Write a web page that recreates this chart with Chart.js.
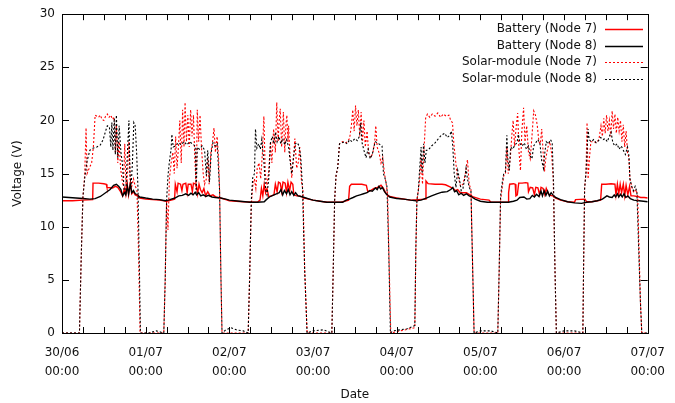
<!DOCTYPE html>
<html>
<head>
    <title>Voltage</title>
    <script src="https://cdn.jsdelivr.net/npm/chart.js"></script>
    <style>
        body { margin: 0; background: #fff; }
        .chart-container { position: relative; width: 675px; height: 403px; }
    </style>
</head>
<body>
<div class="chart-container">
    <canvas id="voltageChart" width="675" height="403"></canvas>
</div>
<script>
    // x values are hours from 30/06 00:00
    const dayLabels = ['30/06', '01/07', '02/07', '03/07', '04/07', '05/07', '06/07', '07/07'];
    const timeLabel = '00:00';
    const seriesNames = ['Battery (Node 7)', 'Battery (Node 8)', 'Solar-module (Node 7)', 'Solar-module (Node 8)'];

    const battery7 = [
        [0,12.45],[3,12.45],[6,12.5],[8.8,12.55],[8.9,14.1],[10.5,14.1],[12.0,14.05],[12.7,14.0],[12.9,13.7],[14.5,13.65],[15.3,13.8],[16.0,13.7],[16.8,13.3],[17.4,12.9],[17.9,13.6],[18.3,13.0],[18.7,14.0],[19.1,13.0],[19.6,14.1],[20.0,13.1],[20.5,13.3],[21.0,13.0],[21.6,12.9],[22.3,12.7],
        [24,12.6],[28,12.5],[30,12.4],[32.3,12.6],[32.5,14.0],[33.0,13.3],[33.3,14.1],[34.0,14.0],[34.4,13.4],[34.7,14.0],[35.5,14.1],[35.9,13.2],[36.2,14.0],[37.0,14.0],[37.4,13.3],[37.7,14.1],[38.5,14.0],[38.9,13.1],[39.3,14.0],[39.7,13.5],[40.2,13.2],[40.7,13.6],[41.2,12.9],[41.8,13.3],[42.5,12.9],[43.3,13.0],[44.2,12.8],[45.5,12.7],[47,12.55],
        [48,12.45],[52,12.35],[56,12.3],[56.8,12.5],[57.2,13.6],[57.6,12.9],[58.0,14.0],[58.4,13.2],[58.8,13.6],[59.3,12.8],[60.0,12.9],[60.8,13.0],[61.2,14.0],[61.7,13.3],[62.1,14.2],[62.6,14.1],[63.0,13.3],[63.4,14.2],[64.0,14.1],[64.4,13.2],[64.8,14.2],[65.3,13.4],[65.7,14.2],[66.2,14.0],[66.5,13.0],[67.3,12.9],[68.2,12.9],[69.5,12.7],
        [72,12.5],[76,12.3],[80,12.3],[82.2,12.5],[82.5,13.8],[83.0,14.0],[84.5,14.0],[86.0,14.0],[87.3,13.9],[87.7,13.3],[88.5,13.4],[89.5,13.6],[90.5,13.7],[91.5,13.9],[92.2,13.6],[93.0,13.1],[94.0,12.85],
        [96,12.7],[100,12.5],[104.2,12.6],[104.4,14.3],[105,14.05],[107,14.0],[109,14.0],[110,13.95],[111.6,13.7],[112.3,13.6],[112.8,13.4],[113.5,13.5],[114.2,13.2],[115,13.2],[116,13.2],[117,13.0],[118,12.8],[120,12.6],[122.5,12.5],
        [123,12.3],[128,12.3],[128.1,13.2],[128.4,14.0],[129.5,14.05],[130.0,14.0],[130.2,12.9],[130.6,13.0],[131.0,14.1],[132.0,14.1],[133.0,14.15],[133.6,14.1],[133.8,13.3],[134.3,13.7],[135.0,13.65],[135.5,13.0],[135.9,13.7],[136.5,13.65],[137.0,13.0],[137.4,13.7],[138.0,13.6],[138.5,13.0],[138.9,13.6],[139.5,13.1],[140.0,12.95],[140.8,12.9],[141.6,12.7],[143,12.5],[145,12.35],
        [147,12.3],[147.3,12.55],[150,12.6],[150.5,12.35],[152,12.35],[154.5,12.5],[154.8,14.0],[156,14.0],[157.5,14.05],[158.6,14.0],[158.9,13.0],[159.3,14.0],[159.7,13.1],[160.1,14.0],[160.5,13.2],[161.0,14.0],[161.4,12.9],[161.8,13.9],[162.3,13.0],[162.8,13.8],[163.2,12.9],[164,12.9],[165,12.85],[166,12.75],[167,12.75],[168,12.7]
    ];

    const battery8 = [
        [0,12.8],[2,12.75],[4,12.7],[6,12.65],[8,12.6],[9.5,12.65],[11,12.85],[12.5,13.2],[13.8,13.5],[14.8,13.9],[15.6,14.0],[16.3,13.8],[16.9,13.5],[17.4,12.9],[17.9,13.2],[18.3,13.0],[18.7,13.9],[19.1,13.1],[19.6,14.0],[20.0,13.2],[20.5,13.4],[21.0,13.1],[21.6,13.0],[22.3,12.8],
        [24,12.7],[26,12.6],[28,12.55],[29.6,12.45],[30.5,12.5],[32.4,12.7],[33.5,12.9],[34.5,12.95],[35.5,13.1],[36.3,12.95],[37.0,13.15],[37.6,13.0],[38.2,13.25],[38.6,13.0],[39.2,13.2],[39.8,12.9],[40.5,13.0],[41.3,12.85],[42.0,12.95],[43.0,12.8],[44.0,12.75],[45.5,12.7],[47,12.6],
        [48,12.5],[51,12.4],[54,12.3],[56,12.3],[58,12.35],[58.6,12.55],[59.5,12.8],[60.5,12.95],[61.5,13.1],[62.3,13.2],[62.8,13.5],[63.3,13.0],[63.8,13.4],[64.4,13.1],[64.9,13.5],[65.4,13.0],[65.9,13.3],[66.5,12.95],[67.0,13.2],[67.7,12.9],[68.5,12.85],[69.5,12.75],[71,12.6],
        [72,12.5],[74,12.4],[76,12.3],[80.5,12.3],[81.5,12.5],[82.4,12.6],[83.5,12.75],[84.5,12.9],[85.5,13.0],[86.5,13.1],[87.5,13.2],[88.3,13.4],[89.0,13.35],[89.9,13.65],[90.4,13.5],[90.9,13.8],[91.4,13.55],[91.9,13.7],[92.5,13.3],[93.2,13.0],[94.0,12.8],
        [96,12.65],[98,12.6],[100,12.5],[101.5,12.45],[103,12.5],[104.5,12.7],[106,12.9],[107.5,13.1],[109,13.25],[110.5,13.3],[111.5,13.5],[112.1,13.7],[112.6,13.3],[113.2,13.4],[113.8,13.0],[114.5,13.15],[115.2,12.95],[116.0,13.1],[116.8,12.9],[117.5,12.8],[118.5,12.6],
        [120,12.4],[122,12.3],[124,12.3],[128,12.3],[129.5,12.4],[130.5,12.5],[131.3,12.75],[132.5,12.8],[133.3,12.6],[134.2,12.65],[134.9,12.95],[135.5,12.8],[136.1,13.05],[136.8,12.85],[137.4,13.35],[137.8,12.9],[138.3,13.4],[138.8,12.95],[139.3,13.35],[139.8,12.9],[140.3,13.2],[140.9,12.95],[141.6,12.75],[143,12.55],[145,12.35],[147,12.25],[149,12.2],
        [150.5,12.3],[152,12.35],[153.5,12.45],[155,12.6],[156.3,12.9],[157.0,12.8],[157.8,12.75],[158.4,13.0],[158.8,12.8],[159.3,13.1],[159.7,12.8],[160.2,13.05],[160.7,12.8],[161.2,13.1],[161.7,12.75],[162.3,12.9],[163,12.65],[164,12.5],[165.5,12.45],[168,12.35]
    ];

    const solar7 = [
        [0,0],[5.0,0],[5.5,7],[6.0,12.8],[6.5,14.8],[6.9,19.3],[7.2,15.0],[7.8,15.5],[8.5,16.0],[9.0,17.5],[9.5,20.5],[10.5,20.3],[11.0,20.5],[11.5,20.1],[12.0,20.0],[12.5,20.4],[13.0,20.6],[13.5,20.3],[14.0,20.5],[14.5,20.1],[15.0,20.3],[15.3,17.0],[15.6,19.5],[16.0,16.0],[16.4,18.0],[16.8,15.5],[17.2,14.5],[17.6,13.8],[18.0,17.8],[18.4,13.5],[18.8,15.0],[19.2,18.0],[19.6,14.0],[20.0,13.8],[20.5,14.5],[21.0,13.8],[21.5,13.5],[22.0,7],[22.4,0],
        [29.2,0],[29.6,5],[30.0,12.5],[30.4,9.7],[30.8,14.5],[31.3,16.0],[31.8,17.0],[32.2,15.0],[32.6,18.5],[33.0,15.5],[33.4,17.5],[33.8,20.0],[34.2,16.0],[34.6,21.0],[35.0,17.5],[35.3,21.7],[35.7,18.0],[36.1,20.5],[36.5,17.5],[36.9,21.0],[37.3,18.5],[37.7,20.5],[38.1,16.5],[38.5,13.5],[38.8,21.0],[39.2,18.0],[39.6,20.5],[40.0,17.5],[40.5,15.0],[40.9,14.0],[41.4,14.5],[41.8,16.5],[42.2,14.0],[42.7,17.0],[43.2,18.0],[43.6,19.3],[44.0,17.0],[44.5,18.5],[44.9,16.5],[45.2,13.5],[45.6,5],[45.9,0],
        [53.4,0],[53.8,5],[54.3,12.0],[54.7,13.8],[55.2,14.5],[55.6,13.6],[56.0,15.5],[56.5,16.0],[57.0,14.5],[57.5,17.0],[57.9,20.4],[58.3,15.0],[58.8,13.9],[59.3,15.2],[59.8,18.0],[60.2,16.0],[60.7,19.2],[61.2,17.0],[61.6,21.7],[62.0,18.0],[62.3,20.0],[62.6,21.1],[63.0,17.5],[63.5,20.8],[63.9,17.0],[64.2,19.5],[64.5,20.5],[64.8,18.0],[65.0,19.5],[65.4,16.7],[65.9,14.6],[66.4,16.5],[66.8,18.3],[67.3,15.5],[67.8,16.1],[68.2,17.5],[68.7,14.2],[69.1,13.5],[69.6,6],[70.3,0],
        [77.4,0],[77.8,6],[78.2,12.5],[78.6,14.8],[79.1,15.6],[79.6,17.8],[80.5,18.0],[81.5,17.9],[82.5,18.3],[83.0,19.5],[83.4,21.0],[83.8,19.0],[84.2,21.4],[84.6,19.5],[85.0,21.0],[85.4,18.5],[85.8,20.8],[86.2,18.0],[86.6,20.0],[87.0,17.5],[87.5,19.0],[88.0,16.8],[88.6,16.5],[89.2,17.0],[89.7,18.0],[90.0,19.5],[90.4,17.5],[90.9,17.0],[91.5,16.0],[92.0,16.5],[92.5,15.0],[93.0,14.0],[93.4,13.0],[93.8,7],[94.3,0],
        [101.2,0.5],[101.5,8],[101.8,12.5],[102.2,13.4],[102.6,14.5],[103.0,16.5],[103.4,14.0],[103.8,17.0],[104.3,20.2],[104.8,20.6],[105.5,20.3],[106.2,20.6],[107.0,20.4],[107.8,20.7],[108.6,20.3],[109.4,20.6],[110.2,20.4],[111.0,20.5],[111.5,20.0],[112.0,19.8],[112.4,17.8],[112.8,16.5],[113.3,15.0],[113.8,14.5],[114.3,13.8],[115.0,14.0],[115.6,14.8],[116.3,16.3],[116.8,14.0],[117.3,13.5],[117.8,6],[118.2,0],
        [125.0,0],[125.4,6],[125.8,12.5],[126.3,13.8],[126.7,14.8],[127.2,15.0],[127.6,17.5],[128.0,15.0],[128.6,16.5],[129.0,18.5],[129.4,20.0],[129.8,17.6],[130.3,19.5],[130.7,20.7],[131.1,17.0],[131.5,15.3],[131.9,19.0],[132.4,21.2],[132.8,18.0],[133.3,19.5],[133.8,17.0],[134.3,16.4],[134.8,18.5],[135.3,20.9],[135.8,20.5],[136.3,19.6],[136.8,18.0],[137.2,17.8],[137.6,19.2],[138.0,17.0],[138.4,15.2],[138.8,16.5],[139.4,17.5],[139.9,18.0],[140.4,17.0],[140.9,14.5],[141.4,6],[141.8,0],
        [149.4,0],[149.6,6],[149.9,13.6],[150.3,15.1],[150.6,19.8],[150.9,14.5],[151.3,16.5],[151.7,18.0],[152.5,18.0],[153.3,17.9],[154.0,18.2],[154.6,19.5],[155.0,18.5],[155.4,20.2],[155.8,18.8],[156.2,20.5],[156.6,19.0],[157.0,20.0],[157.4,18.5],[157.8,20.9],[158.2,19.2],[158.6,20.6],[159.0,18.8],[159.4,20.3],[159.8,19.0],[160.2,20.0],[160.6,18.0],[161.0,19.6],[161.4,17.5],[161.8,19.0],[162.2,17.0],[162.6,16.5],[162.9,14.5],[163.4,13.8],[164.0,13.2],[164.6,13.5],[165.1,13.0],[165.5,8],[165.9,3],[166.3,0],[168,0]
    ];

    const solar8 = [
        [0,0],[5.0,0],[5.5,7],[6.0,12.8],[6.6,14.8],[7.2,16.2],[8.0,17.2],[9.0,17.4],[10.0,17.5],[11.0,17.7],[11.8,18.2],[12.5,19.0],[13.0,19.5],[13.6,19.4],[14.0,17.5],[14.3,19.8],[14.6,17.2],[15.0,20.2],[15.3,16.8],[15.6,20.5],[16.0,16.5],[16.4,19.5],[16.9,17.0],[17.3,16.0],[17.8,13.5],[18.3,13.2],[18.7,16.5],[19.2,20.0],[19.5,15.0],[19.8,13.7],[20.2,16.0],[20.6,19.8],[21.0,19.5],[21.4,17.0],[21.8,13.5],[22.2,6],[22.5,0],
        [25,0],[27,0.2],[29.2,0],[29.6,5],[30.0,12.5],[30.4,14.8],[30.8,16.1],[31.3,17.3],[31.5,18.7],[31.9,17.5],[32.6,17.6],[33.4,17.9],[34.2,17.7],[35.0,18.0],[35.8,17.7],[36.6,18.0],[37.4,17.8],[38.2,17.6],[38.5,13.2],[38.8,17.5],[39.4,17.3],[40.2,17.6],[40.9,17.2],[41.4,14.8],[41.8,17.2],[42.3,14.2],[42.8,17.0],[43.3,17.9],[43.9,17.6],[44.5,17.8],[44.8,16.0],[45.2,13.4],[45.6,5],[45.9,0],
        [47,0.3],[48.5,0.5],[50,0.3],[52,0.2],[53.4,0],[53.8,5],[54.3,12.5],[54.7,14.6],[55.2,15.0],[55.5,19.2],[55.9,17.4],[56.4,17.8],[56.9,17.3],[57.3,18.2],[57.9,16.2],[58.4,13.5],[58.8,13.0],[59.3,14.5],[59.8,17.9],[60.3,18.5],[60.8,17.8],[61.2,18.9],[61.7,18.0],[62.2,18.5],[62.8,17.8],[63.3,18.3],[63.9,17.7],[64.4,18.2],[65.0,17.5],[65.5,16.0],[65.9,15.0],[66.4,16.5],[66.9,17.8],[67.5,17.9],[68.0,17.6],[68.5,16.5],[69.0,13.5],[69.6,6],[70.3,0],
        [72,0.2],[75,0.3],[77.4,0],[77.8,6],[78.2,12.5],[78.6,14.8],[79.1,15.6],[79.6,17.8],[80.3,17.9],[81.0,18.0],[81.8,17.8],[82.5,18.2],[83.2,18.0],[84.0,18.3],[84.7,18.1],[85.3,18.5],[85.7,19.8],[86.0,18.0],[86.6,17.2],[87.2,16.5],[87.8,17.3],[88.4,16.4],[89.0,16.8],[89.5,17.6],[89.9,18.0],[90.9,17.8],[91.8,17.6],[92.2,15.0],[92.7,14.5],[93.2,13.8],[93.7,8],[94.2,0],
        [95,0.2],[97,0.3],[99,0.4],[100.5,0.6],[101.2,0.7],[101.5,8],[101.8,12.5],[102.2,13.4],[102.6,15.5],[103.0,17.5],[103.3,15.0],[103.7,17.8],[104.1,16.0],[104.5,17.2],[105.0,17.2],[106.0,17.6],[107.0,17.9],[108.0,18.3],[108.8,18.6],[109.8,18.8],[110.5,18.4],[111.2,18.6],[111.7,19.0],[112.1,17.5],[112.5,15.0],[113.0,13.7],[113.5,15.3],[114.0,14.5],[114.5,13.4],[115.0,13.6],[115.5,14.5],[115.9,15.5],[116.3,14.5],[116.8,13.7],[117.3,13.4],[117.8,6],[118.2,0],
        [120,0.2],[123,0.2],[125.0,0],[125.4,6],[125.8,12.9],[126.3,14.2],[126.7,15.0],[127.2,15.2],[127.6,18.6],[127.9,16.3],[128.3,15.3],[128.7,17.5],[129.3,17.3],[129.9,17.7],[130.5,17.9],[130.9,18.7],[131.4,17.8],[132.0,17.6],[132.6,17.9],[133.2,17.3],[133.8,17.6],[134.4,16.6],[134.8,16.4],[135.3,17.6],[135.9,17.9],[136.5,18.2],[137.1,17.8],[137.6,16.2],[138.1,15.5],[138.5,17.0],[138.9,18.0],[139.5,17.8],[140.1,18.2],[140.6,17.9],[141.0,14.0],[141.4,6],[141.8,0],
        [144,0.2],[147,0.2],[149.4,0],[149.6,6],[149.9,13.6],[150.3,15.1],[150.6,17.0],[150.9,19.2],[151.2,18.2],[151.8,18.0],[152.5,18.2],[153.2,17.9],[153.9,18.1],[154.5,18.4],[155.2,18.2],[155.8,18.3],[156.4,18.0],[157.0,18.5],[157.5,18.9],[158.0,17.9],[158.6,17.6],[159.2,17.8],[159.8,17.3],[160.4,17.6],[161.0,17.2],[161.6,16.8],[162.2,17.5],[162.6,16.7],[162.9,14.5],[163.4,13.8],[163.9,13.4],[164.4,13.8],[164.9,13.3],[165.4,8],[165.9,3],[166.3,0],[168,0]
    ];

    const toPoints = arr => arr.map(p => ({ x: p[0], y: p[1] }));

    // gnuplot style: inward ticks on all four sides, frame, key at top right
    const gnuplotFrame = {
        id: 'gnuplotFrame',
        afterDraw(chart) {
            const { ctx, chartArea: a, scales: { x, y } } = chart;
            ctx.save();
            ctx.strokeStyle = '#000';
            ctx.lineWidth = 1;
            ctx.setLineDash([]);
            ctx.beginPath();
            x.ticks.forEach(t => {
                const px = Math.round(x.getPixelForValue(t.value)) + 0.5;
                ctx.moveTo(px, a.bottom); ctx.lineTo(px, a.bottom - 6);
                ctx.moveTo(px, a.top); ctx.lineTo(px, a.top + 6);
            });
            y.ticks.forEach(t => {
                const py = Math.round(y.getPixelForValue(t.value)) + 0.5;
                ctx.moveTo(a.left, py); ctx.lineTo(a.left + 7, py);
                ctx.moveTo(a.right, py); ctx.lineTo(a.right - 7, py);
            });
            ctx.stroke();
            ctx.strokeRect(Math.round(a.left) + 0.5, Math.round(a.top) + 0.5,
                Math.round(a.right - a.left), Math.round(a.bottom - a.top));

            // key
            ctx.font = '12px "DejaVu Sans"';
            ctx.textAlign = 'right';
            ctx.textBaseline = 'middle';
            chart.data.datasets.forEach((ds, i) => {
                const ry = 29 + i * 16.5;
                ctx.fillStyle = '#111';
                ctx.fillText(ds.label, 597, ry);
                ctx.strokeStyle = ds.borderColor;
                ctx.lineWidth = ds.borderWidth;
                ctx.setLineDash(ds.borderDash || []);
                ctx.beginPath();
                ctx.moveTo(605, Math.round(ry) + 0.5);
                ctx.lineTo(643, Math.round(ry) + 0.5);
                ctx.stroke();
            });
            ctx.restore();
        }
    };

    Chart.defaults.font.family = '"DejaVu Sans", sans-serif';
    Chart.defaults.font.size = 12;
    Chart.defaults.color = '#111';

    new Chart(document.getElementById('voltageChart'), {
        type: 'line',
        data: {
            datasets: [
                { label: seriesNames[0], data: toPoints(battery7), borderColor: 'rgb(255, 0, 0)', borderWidth: 1.4, order: 4 },
                { label: seriesNames[1], data: toPoints(battery8), borderColor: 'rgb(0, 0, 0)', borderWidth: 1.4, order: 3 },
                { label: seriesNames[2], data: toPoints(solar7), borderColor: 'rgb(255, 0, 0)', borderWidth: 1.1, borderDash: [2, 2], order: 2 },
                { label: seriesNames[3], data: toPoints(solar8), borderColor: 'rgb(0, 0, 0)', borderWidth: 1.1, borderDash: [2, 2], order: 1 }
            ]
        },
        options: {
            responsive: false,
            animation: false,
            elements: { point: { radius: 0 }, line: { tension: 0 } },
            layout: { padding: { top: 13, right: 19, left: 0, bottom: 0 } },
            plugins: { legend: { display: false }, tooltip: { enabled: false } },
            scales: {
                x: {
                    type: 'linear',
                    min: 0,
                    max: 168,
                    grid: { display: false, drawTicks: false },
                    border: { display: false },
                    afterFit: scale => { scale.height = 70; },
                    ticks: {
                        stepSize: 6,
                        autoSkip: false,
                        maxRotation: 0,
                        padding: 10,
                        font: { size: 12, lineHeight: 1.6 },
                        callback: value => value % 24 === 0 ? [dayLabels[value / 24], timeLabel] : ''
                    },
                    title: { display: true, text: 'Date', padding: { top: 0, bottom: 1 }, font: { size: 12 } }
                },
                y: {
                    min: 0,
                    max: 30,
                    grid: { display: false, drawTicks: false },
                    border: { display: false },
                    afterFit: scale => { scale.width = 62; },
                    ticks: { stepSize: 5, padding: 7 },
                    title: { display: true, text: 'Voltage (V)', padding: { top: 11, bottom: 0 }, font: { size: 12 } }
                }
            }
        },
        plugins: [gnuplotFrame]
    });
</script>
</body>
</html>
